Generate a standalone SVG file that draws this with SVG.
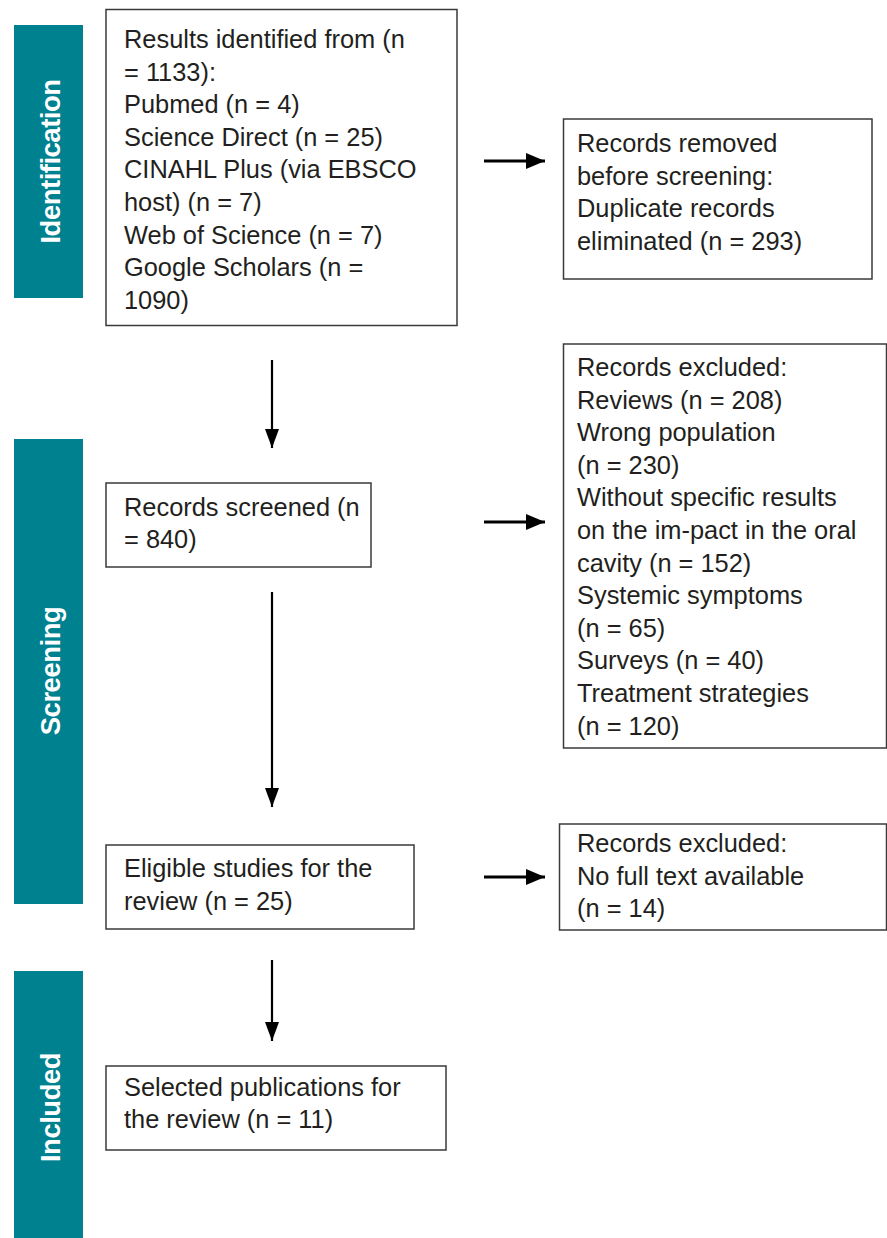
<svg xmlns="http://www.w3.org/2000/svg" width="887" height="1238" viewBox="0 0 887 1238">
<defs>
<style>
.bar{fill:#00818F}
.lab{font-family:"Liberation Sans",Arial,sans-serif;font-weight:bold;font-size:27.5px;letter-spacing:-0.5px;fill:#ffffff}
.box{fill:#ffffff;stroke:#3a3a3a;stroke-width:1.5}
.t{font-family:"Liberation Sans",Arial,sans-serif;font-size:25.4px;fill:#231f20}
.ln{stroke:#000;stroke-width:2.2;fill:none}
.lh{stroke:#000;stroke-width:3;fill:none}
</style>
<marker id="ah" markerUnits="userSpaceOnUse" markerWidth="20" markerHeight="16" refX="19" refY="7" orient="auto">
<path d="M0,0 L19,7 L0,14 Z" fill="#000"/>
</marker>
<marker id="ahh" markerUnits="userSpaceOnUse" markerWidth="20" markerHeight="18" refX="19" refY="8" orient="auto">
<path d="M0,0 L19,8 L0,16 Z" fill="#000"/>
</marker>
</defs>
<rect width="887" height="1238" fill="#ffffff"/>
<g id="phase-identification">
<rect class="bar" x="14" y="25" width="69" height="273"/>
<text class="lab" transform="translate(60,161.5) rotate(-90)" text-anchor="middle">Identification</text>
</g>
<g id="phase-screening">
<rect class="bar" x="14" y="439" width="69" height="465"/>
<text class="lab" transform="translate(60,671) rotate(-90)" text-anchor="middle">Screening</text>
</g>
<g id="phase-included">
<rect class="bar" x="14" y="971" width="69" height="267"/>
<text class="lab" transform="translate(60,1107.5) rotate(-90)" text-anchor="middle">Included</text>
</g>
<g id="connectors">
<line class="ln" x1="272" y1="360" x2="272" y2="448" marker-end="url(#ah)"/>
<line class="ln" x1="272" y1="592" x2="272" y2="807" marker-end="url(#ah)"/>
<line class="ln" x1="272" y1="960" x2="272" y2="1041" marker-end="url(#ah)"/>
<line class="lh" x1="484" y1="161" x2="545" y2="161" marker-end="url(#ahh)"/>
<line class="lh" x1="484" y1="522" x2="545" y2="522" marker-end="url(#ahh)"/>
<line class="lh" x1="484" y1="877" x2="545" y2="877" marker-end="url(#ahh)"/>
</g>
<g id="node-identified">
<rect class="box" x="106" y="9.5" width="351" height="316"/>
<text class="t" x="124" y="48">Results identified from (n</text>
<text class="t" x="124" y="80.6">= 1133):</text>
<text class="t" x="124" y="113.2">Pubmed (n = 4)</text>
<text class="t" x="124" y="145.8">Science Direct (n = 25)</text>
<text class="t" x="124" y="178.4">CINAHL Plus (via EBSCO</text>
<text class="t" x="124" y="211">host) (n = 7)</text>
<text class="t" x="124" y="243.6">Web of Science (n = 7)</text>
<text class="t" x="124" y="276.2">Google Scholars (n =</text>
<text class="t" x="124" y="308.8">1090)</text>
</g>
<g id="node-removed">
<rect class="box" x="563.5" y="119" width="308.5" height="160"/>
<text class="t" x="577" y="152">Records removed</text>
<text class="t" x="577" y="184.6">before screening:</text>
<text class="t" x="577" y="217.2">Duplicate records</text>
<text class="t" x="577" y="249.8">eliminated (n = 293)</text>
</g>
<g id="node-screened">
<rect class="box" x="106" y="483" width="265" height="84"/>
<text class="t" x="124" y="515.5">Records screened (n</text>
<text class="t" x="124" y="548">= 840)</text>
</g>
<g id="node-excluded1">
<rect class="box" x="563.5" y="344" width="323" height="404"/>
<text class="t" x="577" y="376">Records excluded:</text>
<text class="t" x="577" y="408.6">Reviews (n = 208)</text>
<text class="t" x="577" y="441.2">Wrong population</text>
<text class="t" x="577" y="473.8">(n = 230)</text>
<text class="t" x="577" y="506.4">Without specific results</text>
<text class="t" x="577" y="539">on the im-pact in the oral</text>
<text class="t" x="577" y="571.6">cavity (n = 152)</text>
<text class="t" x="577" y="604.2">Systemic symptoms</text>
<text class="t" x="577" y="636.8">(n = 65)</text>
<text class="t" x="577" y="669.4">Surveys (n = 40)</text>
<text class="t" x="577" y="702">Treatment strategies</text>
<text class="t" x="577" y="734.6">(n = 120)</text>
</g>
<g id="node-eligible">
<rect class="box" x="106" y="845" width="308" height="84"/>
<text class="t" x="124" y="877">Eligible studies for the</text>
<text class="t" x="124" y="909.6">review (n = 25)</text>
</g>
<g id="node-excluded2">
<rect class="box" x="559.5" y="824" width="327" height="106"/>
<text class="t" x="577" y="852">Records excluded:</text>
<text class="t" x="577" y="884.6">No full text available</text>
<text class="t" x="577" y="917.2">(n = 14)</text>
</g>
<g id="node-selected">
<rect class="box" x="106" y="1066" width="340" height="84"/>
<text class="t" x="124" y="1095.5">Selected publications for</text>
<text class="t" x="124" y="1128">the review (n = 11)</text>
</g>
</svg>
